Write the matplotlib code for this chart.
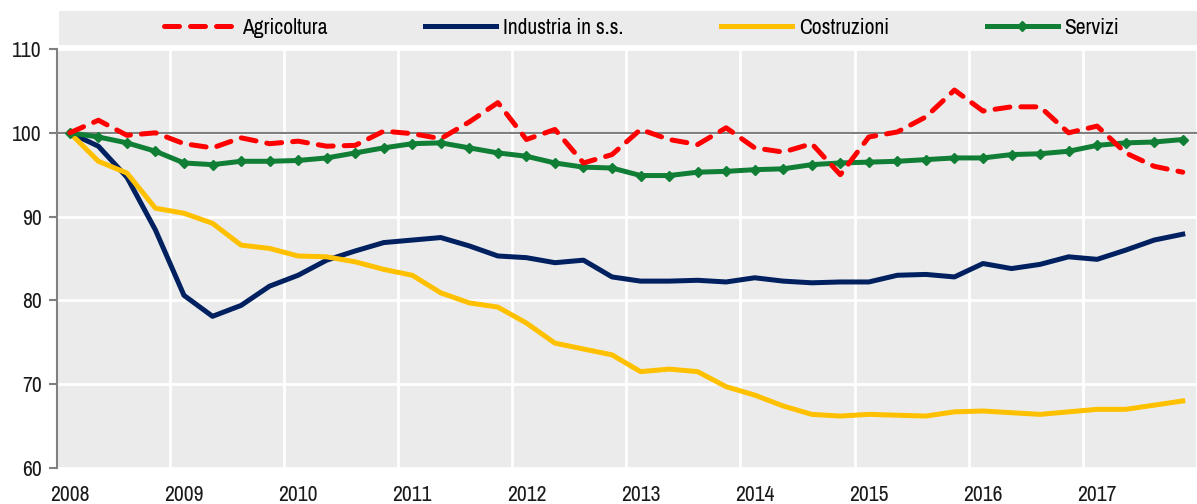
import matplotlib
matplotlib.use('Agg')
import matplotlib.pyplot as plt
import numpy as np

plt.rcParams['font.family'] = ['Archivo Narrow', 'DejaVu Sans']

years = ['2008', '2009', '2010', '2011', '2012', '2013', '2014', '2015', '2016', '2017']

agricoltura = [100.0, 101.5, 99.7, 100.0, 98.7, 98.2, 99.4, 98.7, 99.0, 98.4,
               98.5, 100.2, 99.9, 99.3, 101.3, 103.6, 99.2, 100.4, 96.4, 97.4,
               100.4, 99.2, 98.6, 100.6, 98.2, 97.7, 98.7, 95.0, 99.5, 100.1,
               101.9, 105.1, 102.6, 103.1, 103.1, 100.0, 100.8, 97.6, 96.0, 95.3]
industria = [100.0, 98.4, 94.7, 88.4, 80.6, 78.1, 79.4, 81.7, 83.0, 84.8,
             85.9, 86.9, 87.2, 87.5, 86.5, 85.3, 85.1, 84.5, 84.8, 82.8,
             82.3, 82.3, 82.4, 82.2, 82.7, 82.3, 82.1, 82.2, 82.2, 83.0,
             83.1, 82.8, 84.4, 83.8, 84.3, 85.2, 84.9, 86.0, 87.2, 87.9]
costruzioni = [100.0, 96.6, 95.2, 91.0, 90.4, 89.2, 86.6, 86.2, 85.3, 85.2,
               84.6, 83.7, 83.0, 80.9, 79.7, 79.2, 77.3, 74.9, 74.2, 73.5,
               71.5, 71.8, 71.5, 69.7, 68.7, 67.4, 66.4, 66.2, 66.4, 66.3,
               66.2, 66.7, 66.8, 66.6, 66.4, 66.7, 67.0, 67.0, 67.5, 68.0]
servizi = [100.0, 99.5, 98.8, 97.8, 96.4, 96.2, 96.6, 96.6, 96.7, 97.0,
           97.6, 98.2, 98.7, 98.8, 98.2, 97.6, 97.2, 96.4, 95.9, 95.8,
           94.9, 94.9, 95.3, 95.4, 95.6, 95.7, 96.2, 96.4, 96.5, 96.6,
           96.8, 97.0, 97.0, 97.4, 97.5, 97.8, 98.5, 98.8, 98.9, 99.2]

x = np.arange(len(servizi))
bg = '#EBEBEB'
fs = 15.5

fig = plt.figure(figsize=(11.97, 5.04), dpi=100)
ax = fig.add_axes([57 / 1197, 1 - 468 / 504, 1 - 57 / 1197, (468 - 49) / 504])
ax.set_facecolor(bg)

ax.plot(x, agricoltura, color='#FF0000', lw=3.6, dashes=(3, 2.2),
        dash_capstyle='round', label='Agricoltura', zorder=4)
ax.plot(x, industria, color='#002060', lw=3.6, label='Industria in s.s.', zorder=3)
ax.plot(x, costruzioni, color='#FFC000', lw=3.6, label='Costruzioni', zorder=3)
ax.plot(x, servizi, color='#107F35', lw=3.6, marker='D', ms=5.5,
        label='Servizi', zorder=3)

ax.axhline(100, color='#808080', lw=1.5, zorder=2)

ax.set_xlim(-0.45, len(x) - 1)
ax.set_ylim(60, 110)
ax.set_yticks([60, 70, 80, 90, 100, 110])
ax.set_xticks(np.arange(0, len(x), 4))
ax.set_xticklabels(years)
ax.set_xticks(np.arange(3.5, len(x), 4), minor=True)
ax.grid(True, which='minor', axis='x', color='white', lw=2)
ax.grid(True, which='major', axis='y', color='white', lw=2)
ax.set_axisbelow(True)

for s in ['top', 'right', 'bottom']:
    ax.spines[s].set_visible(False)
ax.spines['left'].set_color('#808080')
ax.spines['left'].set_linewidth(1.5)
ax.tick_params(axis='y', colors='#808080', length=6, width=1.5, labelsize=fs,
               labelcolor='#1a1a1a', pad=5)
ax.tick_params(axis='x', which='both', length=0, labelsize=fs,
               labelcolor='#1a1a1a', pad=12)

# legend band
lax = fig.add_axes([59 / 1197, 1 - 45 / 504, 1 - 59 / 1197, 34 / 504])
lax.set_facecolor(bg)
lax.set_xticks([])
lax.set_yticks([])
for s in lax.spines.values():
    s.set_visible(False)
h, l = ax.get_legend_handles_labels()
lax.legend(h, l, ncol=4, loc='center', bbox_to_anchor=(0.512, 0.5),
           frameon=False, fontsize=fs, handlelength=3.3, handletextpad=0.3,
           columnspacing=4.55, numpoints=1)

fig.savefig('out.png', dpi=100)
